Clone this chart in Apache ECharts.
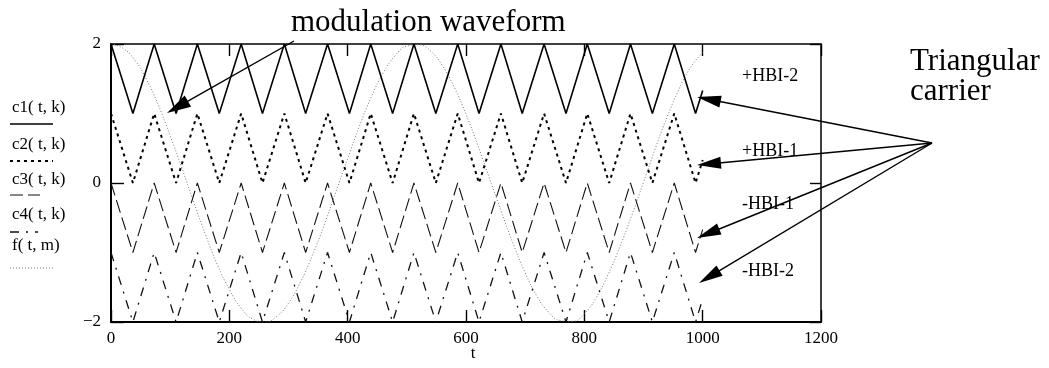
<!DOCTYPE html>
<html><head><meta charset="utf-8">
<script src="https://cdn.jsdelivr.net/npm/echarts@6/dist/echarts.min.js"></script>
<style>html,body{margin:0;padding:0;background:#fff}#c{width:1049px;height:368px}</style>
</head><body><div id="c"></div>
<script>
// carrier vertex times (peaks / troughs)
const carrierT = [0,37,73,110,146,183,220,256,293,329,366,403,439,476,512,549,586,622,659,695,732,769,805,842,878,915,952,988,1000];
const c1Vals = [2,1,2,1,2,1,2,1,2,1,2,1,2,1,2,1,2,1,2,1,2,1,2,1,2,1,2,1,1.33];
const c2Vals = [1,0,1,0,1,0,1,0,1,0,1,0,1,0,1,0,1,0,1,0,1,0,1,0,1,0,1,0,0.33];
const c3Vals = [0,-1,0,-1,0,-1,0,-1,0,-1,0,-1,0,-1,0,-1,0,-1,0,-1,0,-1,0,-1,0,-1,0,-1,-0.67];
const c4Vals = [-1,-2,-1,-2,-1,-2,-1,-2,-1,-2,-1,-2,-1,-2,-1,-2,-1,-2,-1,-2,-1,-2,-1,-2,-1,-2,-1,-2,-1.67];
// modulation waveform samples
const fT = [0,20,40,60,80,100,120,140,160,180,200,220,240,260,280,300,320,340,360,380,400,420,440,460,480,500,520,540,560,580,600,620,640,660,680,700,720,740,760,780,800,820,840,860,880,900,920,940,960,980,1000];
const fVals = [2.00,1.94,1.77,1.49,1.12,0.68,0.21,-0.28,-0.75,-1.18,-1.53,-1.80,-1.96,-2.00,-1.92,-1.73,-1.43,-1.05,-0.61,-0.13,0.35,0.82,1.24,1.58,1.83,1.97,1.99,1.90,1.69,1.38,0.99,0.54,0.06,-0.42,-0.88,-1.29,-1.63,-1.86,-1.98,-1.99,-1.88,-1.65,-1.32,-0.92,-0.47,0.01,0.50,0.95,1.35,1.67,1.88];
const legendNames = ['c1( t, k)','c2( t, k)','c3( t, k)','c4( t, k)','f( t, m)'];
const xAxisName = 't';
const carrierLabels = ['+HBI-2','+HBI-1','-HBI-1','-HBI-2'];

const pairs = (xs, ys) => xs.map((x, i) => [x, ys[i]]);
const SERIF = '"Liberation Serif", "Times New Roman", serif';

const styles = [
  {color:'#000', width:1.6, type:'solid'},
  {color:'#000', width:2, type:[3,4]},
  {color:'#111', width:1.1, type:[13,5]},
  {color:'#111', width:1.3, type:[9,7,2,7]},
  {color:'#777', width:1, type:[1,2]}
];

const chart = echarts.init(document.getElementById('c'), null, {renderer:'canvas'});

function arrow(x1, y1, x2, y2, hl, hw) {
  const dx = x2 - x1, dy = y2 - y1, L = Math.hypot(dx, dy);
  const ux = dx / L, uy = dy / L;
  const bx = x2 - ux * hl, by = y2 - uy * hl;
  const nx = -uy * hw / 2, ny = ux * hw / 2;
  return [
    {type:'line', shape:{x1, y1, x2:bx + ux * 2, y2:by + uy * 2}, style:{stroke:'#000', lineWidth:1.4}, z:100},
    {type:'polygon', shape:{points:[[x2, y2], [bx + nx, by + ny], [bx - nx, by - ny]]}, style:{fill:'#000'}, z:100}
  ];
}

const graphics = [];
// legend-like labels at left
const legY = [108, 145, 180, 215, 246];
const sampleY = [124, 161, 195, 232, 268];
const sampleLen = [43, 43, 30, 28, 45];
legendNames.forEach((n, i) => {
  graphics.push({type:'text', style:{text:n, x:12, y:legY[i], font:'17px ' + SERIF, fill:'#000', verticalAlign:'middle'}});
  graphics.push({type:'line', shape:{x1:10, y1:sampleY[i], x2:10 + sampleLen[i], y2:sampleY[i]},
    style:{stroke:styles[i].color, lineWidth:styles[i].width, lineDash:styles[i].type === 'solid' ? null : styles[i].type}});
});
graphics.push({type:'text', style:{text:xAxisName, x:473, y:354, font:'17px ' + SERIF, fill:'#000', align:'center', verticalAlign:'middle'}});
graphics.push({type:'text', style:{text:'modulation waveform', x:291, y:23, font:'31px ' + SERIF, fill:'#000', verticalAlign:'middle'}});
graphics.push({type:'text', style:{text:'Triangular', x:910, y:62, font:'31px ' + SERIF, fill:'#000', verticalAlign:'middle'}});
graphics.push({type:'text', style:{text:'carrier', x:910, y:92, font:'31px ' + SERIF, fill:'#000', verticalAlign:'middle'}});
const labY = [76, 151, 204, 271];
carrierLabels.forEach((t, i) => {
  graphics.push({type:'text', style:{text:t, x:742, y:labY[i], font:'18px ' + SERIF, fill:'#000', verticalAlign:'middle'}, z:50});
});
graphics.push(...arrow(294, 41, 167, 113, 24, 13));
const origin = [932, 143];
[[697, 97], [697, 165], [697, 238], [699, 283]].forEach(p => graphics.push(...arrow(origin[0], origin[1], p[0], p[1], 24, 12)));

const lineSeries = (name, data, i, smooth) => ({
  name, type:'line', data, showSymbol:false, symbol:'none', smooth:!!smooth,
  lineStyle:{color:styles[i].color, width:styles[i].width, type:styles[i].type},
  silent:true, animation:false, clip:true, z: i === 4 ? 1 : 3
});

const tickStyle = {color:'#000', width:1.4};
chart.setOption({
  animation:false,
  backgroundColor:'#fff',
  grid:{left:111, top:44, width:710, height:278, containLabel:false},
  xAxis:[
    {type:'value', min:0, max:1200, interval:200, position:'bottom',
     axisLine:{show:true, onZero:false, lineStyle:{color:'#000', width:2}},
     axisTick:{show:true, inside:true, length:12, lineStyle:tickStyle},
     axisLabel:{color:'#000', fontFamily:'Liberation Serif', fontSize:17, margin:8, formatter:v => String(v)},
     splitLine:{show:false}},
    {type:'value', min:0, max:1200, interval:200, position:'top',
     axisLine:{show:true, onZero:false, lineStyle:{color:'#000', width:1.5}},
     axisTick:{show:true, inside:true, length:12, lineStyle:tickStyle},
     axisLabel:{show:false}, splitLine:{show:false}}
  ],
  yAxis:[
    {type:'value', min:-2, max:2, interval:2, position:'left',
     axisLine:{show:true, onZero:false, lineStyle:{color:'#000', width:2}},
     axisTick:{show:true, inside:true, length:13, lineStyle:tickStyle},
     axisLabel:{color:'#000', fontFamily:'Liberation Serif', fontSize:17, margin:10,
       formatter:v => v < 0 ? '\u2212' + (-v) : String(v)},
     splitLine:{show:false}},
    {type:'value', min:-2, max:2, interval:2, position:'right',
     axisLine:{show:true, onZero:false, lineStyle:{color:'#000', width:1.5}},
     axisTick:{show:true, inside:true, length:11, lineStyle:tickStyle},
     axisLabel:{show:false}, splitLine:{show:false}}
  ],
  series:[
    lineSeries('f(t,m)', pairs(fT, fVals), 4, true),
    lineSeries('c1(t,k)', pairs(carrierT, c1Vals), 0),
    lineSeries('c2(t,k)', pairs(carrierT, c2Vals), 1),
    lineSeries('c3(t,k)', pairs(carrierT, c3Vals), 2),
    lineSeries('c4(t,k)', pairs(carrierT, c4Vals), 3)
  ],
  graphic:graphics
});
</script>
</body></html>
